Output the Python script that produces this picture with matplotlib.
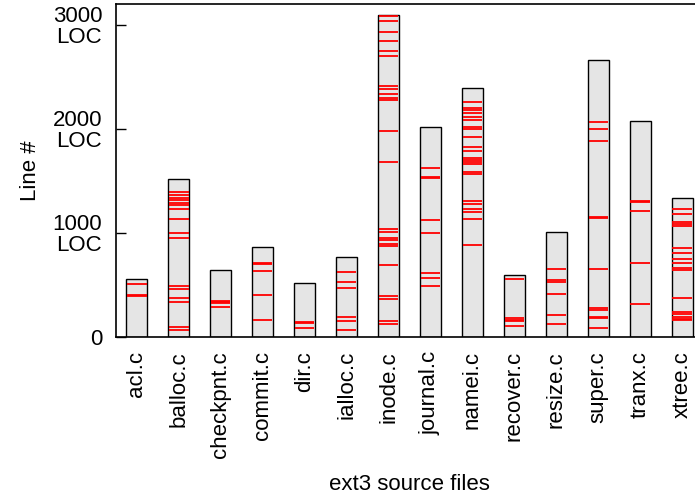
import matplotlib
matplotlib.use('Agg')
import matplotlib.pyplot as plt

plt.rcParams['font.family'] = ['Liberation Sans', 'DejaVu Sans']

files = ['acl.c', 'balloc.c', 'checkpnt.c', 'commit.c', 'dir.c', 'ialloc.c',
         'inode.c', 'journal.c', 'namei.c', 'recover.c', 'resize.c',
         'super.c', 'tranx.c', 'xtree.c']

# total lines of code per file
file_loc = [555, 1519, 644, 868, 522, 766, 3093, 2019, 2391, 593, 1010,
            2663, 2071, 1337]

# marked line numbers inside each file
acl_lines = [510, 404, 398]
balloc_lines = [1397, 1365, 1340, 1317, 1288, 1266, 1234, 1138, 1003, 949,
                490, 458, 375, 340, 99, 64]
checkpnt_lines = [350, 338, 325, 285]
commit_lines = [712, 700, 638, 407, 163]
dir_lines = [147, 136, 89]
ialloc_lines = [625, 529, 471, 195, 151, 67]
inode_lines = [3085, 3032, 2933, 2840, 2750, 2702, 2413, 2381, 2333, 2295,
               2280, 1981, 1683, 1038, 1006, 955, 933, 891, 875, 692, 394,
               362, 154, 125]
journal_lines = [1625, 1540, 1530, 1125, 1003, 615, 564, 494]
namei_lines = [2263, 2200, 2180, 2150, 2118, 2087, 2022, 2000, 1926, 1830,
               1791, 1720, 1700, 1680, 1660, 1584, 1564, 1311, 1279, 1234,
               1202, 1138, 882]
recover_lines = [561, 180, 165, 150, 109]
resize_lines = [657, 548, 532, 410, 212, 125]
super_lines = [2067, 2000, 1888, 1155, 1140, 654, 280, 262, 195, 180, 83]
tranx_lines = [1311, 1300, 1215, 715, 321]
xtree_lines = [1231, 1186, 1106, 1083, 1067, 853, 811, 753, 708, 660, 648,
               378, 243, 224, 195, 175, 165]

marked = [acl_lines, balloc_lines, checkpnt_lines, commit_lines, dir_lines,
          ialloc_lines, inode_lines, journal_lines, namei_lines,
          recover_lines, resize_lines, super_lines, tranx_lines, xtree_lines]

ytick_vals = [0, 1000, 2000, 3000]
ytick_labels = ['0', '1000\nLOC', '2000\nLOC', '3000\nLOC']

fig = plt.figure(figsize=(6.95, 4.98), dpi=100)
ax = fig.add_axes([116 / 695, 1 - 337 / 498, 587 / 695, 333 / 498])

width = 0.5
xs = list(range(len(files)))
ax.bar(xs, file_loc, width=width, color='#e5e5e5', edgecolor='black',
       linewidth=1.0, zorder=2)
for x, lines in zip(xs, marked):
    ax.hlines(lines, x - width / 2 + 0.02, x + width / 2 - 0.02,
              colors='red', linewidth=1.3, zorder=3)

ax.set_xlim(-0.5, 13.5)
ax.set_ylim(0, 3200)
ax.set_yticks(ytick_vals)
ax.set_yticklabels(ytick_labels, fontsize=16, linespacing=0.95)
for lab in ax.get_yticklabels():
    lab.set_multialignment('right')
ax.set_xticks(xs)
ax.set_xticklabels(files, rotation=90, fontsize=16)
ax.tick_params(axis='y', direction='in', length=7, width=1, pad=10)
ax.tick_params(axis='x', length=0, pad=10)
for s in ax.spines.values():
    s.set_linewidth(1.2)
ax.set_ylabel('Line #', fontsize=16, labelpad=8)
ax.set_xlabel('ext3 source files', fontsize=16, labelpad=12)

fig.savefig('out.png', dpi=100)
